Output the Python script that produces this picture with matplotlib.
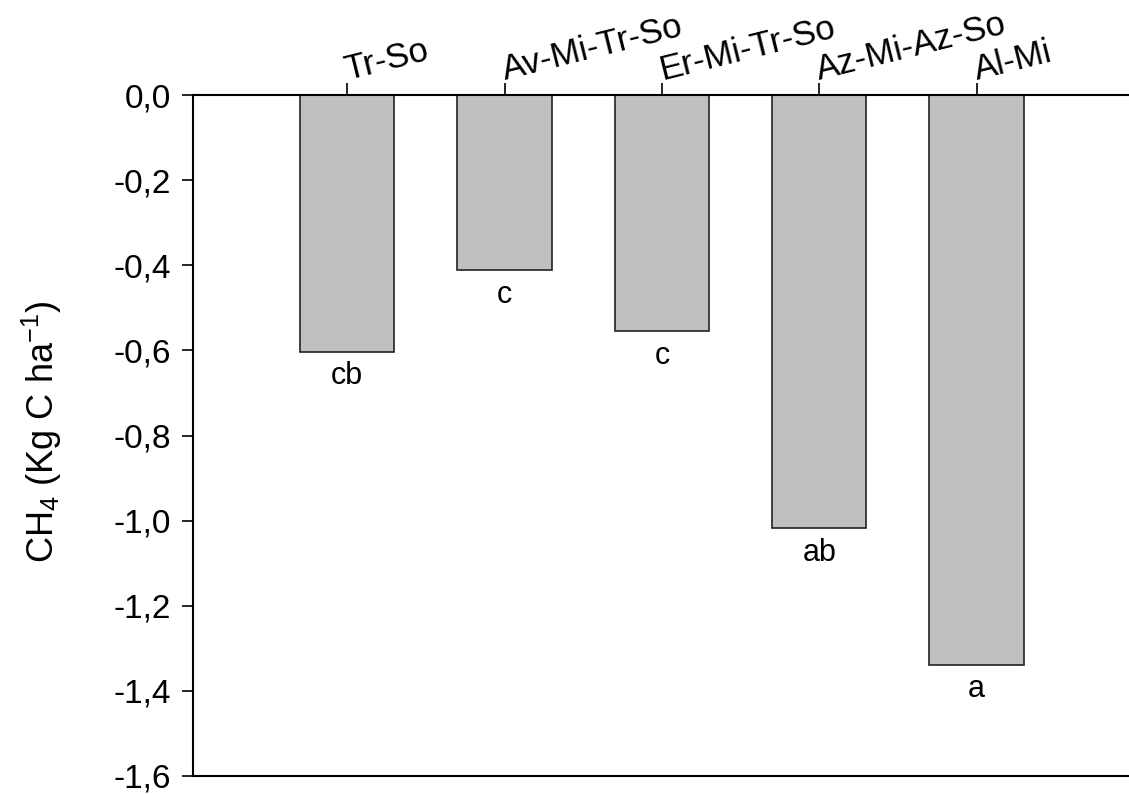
import matplotlib
matplotlib.use("Agg")
import matplotlib.pyplot as plt
from matplotlib.ticker import FuncFormatter

categories = ["Tr-So", "Av-Mi-Tr-So", "Er-Mi-Tr-So", "Az-Mi-Az-So", "Al-Mi"]
values = [-0.604, -0.412, -0.555, -1.018, -1.339]
letters = ["cb", "c", "c", "ab", "a"]
yticks = [0.0, -0.2, -0.4, -0.6, -0.8, -1.0, -1.2, -1.4, -1.6]

plt.rcParams['font.family'] = ['Liberation Sans', 'DejaVu Sans']
plt.rcParams['mathtext.fontset'] = 'custom'
plt.rcParams['mathtext.rm'] = 'Liberation Sans'
plt.rcParams['mathtext.it'] = 'Liberation Sans'
plt.rcParams['mathtext.bf'] = 'Liberation Sans'

fig = plt.figure(figsize=(11.29, 7.94), dpi=100)
W, H = 1129, 794
x0, x1, ytop, ybot = 193, 1134, 95, 776
ax = fig.add_axes([x0 / W, 1 - ybot / H, (x1 - x0) / W, (ybot - ytop) / H])

pos = list(range(1, len(categories) + 1))
ax.bar(pos, values, width=0.6, color="#c0c0c0", edgecolor="#222222", linewidth=1.2)

for p, v, l in zip(pos, values, letters):
    ax.text(p, v - 0.076, l, ha="center", va="baseline", fontsize=22)

ax.set_xlim(0.02, 6.0)
ax.set_ylim(-1.6, 0.0)
ax.set_yticks(yticks)
ax.yaxis.set_major_formatter(FuncFormatter(lambda v, _: f"{v:.1f}".replace(".", ",").replace("-0,0", "0,0")))
ax.tick_params(axis="y", direction="out", length=8, width=1.2, labelsize=24, pad=8)

ax.xaxis.tick_top()
ax.set_xticks(pos)
ax.set_xticklabels(categories, rotation=14, ha="left", va="baseline", rotation_mode="anchor", fontsize=25)
ax.tick_params(axis="x", direction="out", length=9, width=1.2, pad=2)

for s in ["left", "top", "bottom"]:
    ax.spines[s].set_linewidth(1.5)
ax.spines["right"].set_visible(False)

ax.set_ylabel(r"CH$_{\mathregular{4}}$ (Kg C ha$^{\mathregular{-1}}$)", fontsize=26)
ax.yaxis.set_label_coords((64 - x0) / (x1 - x0), 0.505)

fig.savefig("out.png", dpi=100)
